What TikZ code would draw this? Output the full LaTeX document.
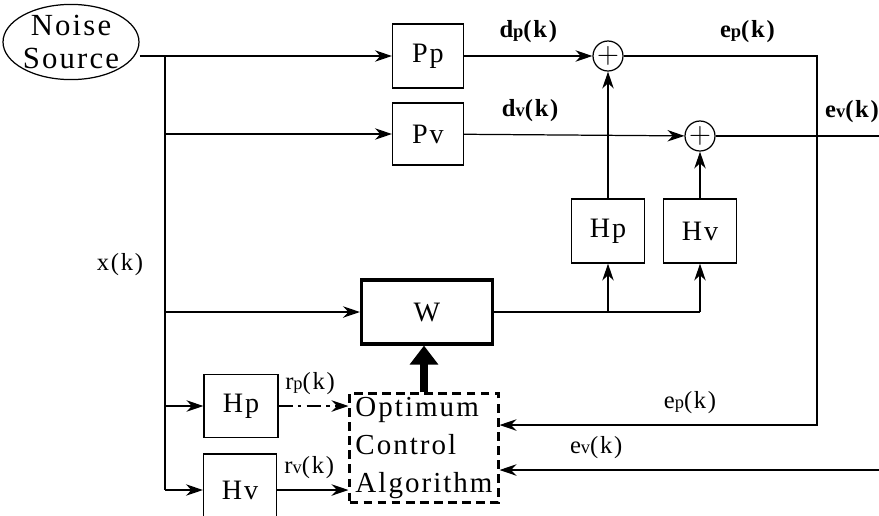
\documentclass[tikz,border=0pt]{standalone}
\usepackage{fontspec}
\setmainfont{Liberation Serif}[LetterSpace=7]
\usetikzlibrary{arrows.meta, positioning, shapes.geometric}
\newcommand{\sg}[2]{#1{\fontsize{10.5}{11}\selectfont #2}(k)}
\tikzset{
  every picture/.style={line width=0.7pt},
  blk/.style={draw, align=center, inner sep=0pt, font=\fontsize{16}{18}\selectfont},
  sum/.style={draw, circle, inner sep=0pt, minimum size=0.6cm, font=\fontsize{17}{17}\selectfont},
  arrow/.style={-{Stealth[length=3.4mm, width=2.3mm, inset=1.1mm]}},
  bigarrow/.style={-{Triangle[length=3.8mm, width=5.5mm]}, line width=4pt},
  sig/.style={font=\fontsize{14}{16}\selectfont},
  sigb/.style={font=\bfseries\fontsize{14}{16}\selectfont},
}
\begin{document}
\begin{tikzpicture}[x=0.02cm, y=-0.02cm]
  \useasboundingbox (0,0) rectangle (879,515);
  % source and plant paths
  \node[draw, ellipse, minimum width=2.7cm, minimum height=1.34cm, inner sep=0pt, align=center,
        font=\fontsize{17.5}{18.5}\selectfont] (noise) at (71,42) {Noise\\Source};
  \node[blk, minimum width=1.42cm, minimum height=1.28cm] (pp) at (428,56) {Pp};
  \node[blk, minimum width=1.42cm, minimum height=1.24cm] (pv) at (428,134) {Pv};
  \node[sum] (s1) at (608,56) {$+$};
  \node[sum] (s2) at (700,136) {$+$};
  % secondary paths
  \node[blk, minimum width=1.46cm, minimum height=1.28cm] (hp) at (608,231) {Hp};
  \node[blk, minimum width=1.46cm, minimum height=1.28cm] (hv) at (700,231) {Hv};
  \node[blk, line width=1.8pt, minimum width=2.62cm, minimum height=1.28cm] (w) at (427,312) {W};
  % filtered reference and controller
  \node[blk, minimum width=1.48cm, minimum height=1.26cm] (hpl) at (241,406) {Hp};
  \node[blk, minimum width=1.46cm, minimum height=1.44cm] (hvl) at (240,490) {Hv};
  \node[draw, line width=1.2pt, dash pattern=on 5pt off 3pt, minimum width=2.98cm, minimum height=2.18cm,
        align=left, inner sep=0pt, font=\fontsize{16.5}{21.5}\selectfont] (oca) at (424,448) {Optimum\\Control\\Algorithm};
  \node[sig] (xk) at (120,265) {x(k)};
  \coordinate (tr) at (165,56);
  \coordinate (epr) at (817,425);
  \coordinate (evr) at (886,470);
  % connectors
  \draw[arrow] (noise.east |- pp) -- (pp);
  \draw (tr) -- (tr |- hvl);
  \draw[arrow] (tr |- pv) -- (pv);
  \draw[arrow] (tr |- w) -- (w);
  \draw[arrow] (tr |- hpl) -- (hpl);
  \draw[arrow] (tr |- hvl) -- (hvl);
  \draw[arrow] (pp) -- node[sigb, above=4pt, pos=0.5] {\sg{d}{p}} (s1);
  \draw[arrow] (pv) -- node[sigb, above=4pt, pos=0.3] {\sg{d}{v}} (s2);
  \draw[arrow] (s1) -- node[sigb, above=4pt, pos=0.64] {\sg{e}{p}} (s1 -| epr) -- (epr) -- node[sig, above=3pt, pos=0.4] {\sg{e}{p}} (oca.east |- epr);
  \draw[arrow] (s2) -- node[sigb, above=4pt, pos=0.8] {\sg{e}{v}} (s2 -| evr) -- (evr) -- node[sig, above=3pt, pos=0.75] {\sg{e}{v}} (oca.east |- evr);
  \draw[arrow] (hp) -- (s1);
  \draw[arrow] (hv) -- (s2);
  \draw (w) -- (hv |- w);
  \draw[arrow] (hp |- w) -- (hp);
  \draw[arrow] (hv |- w) -- (hv);
  \draw[bigarrow] (oca.north) -- (oca.north |- w.south);
  \draw[arrow, dash pattern=on 8pt off 3pt on 2pt off 3pt] (hpl) -- node[sig, above=3pt, pos=0.45] {\sg{r}{p}} (oca.west |- hpl);
  \draw[arrow] (hvl) -- node[sig, above=3pt, pos=0.45] {\sg{r}{v}} (oca.west |- hvl);
\end{tikzpicture}
\end{document}
